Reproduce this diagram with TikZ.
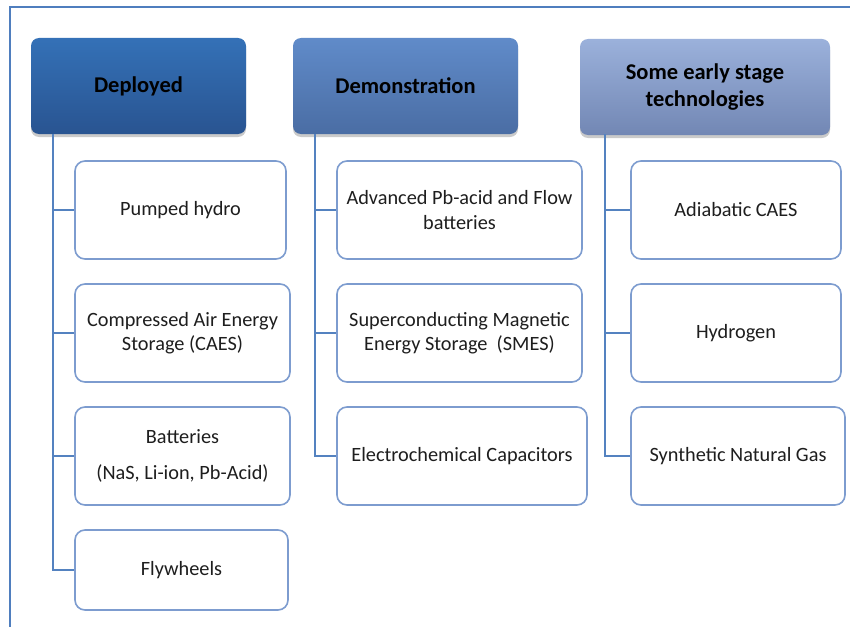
\documentclass[tikz,border=0pt]{standalone}
\usepackage{fontspec}
\setmainfont{Carlito}
\usetikzlibrary{shadows}
\definecolor{framec}{RGB}{79,126,190}
\definecolor{linec}{RGB}{84,130,192}
\definecolor{boxc}{RGB}{125,156,207}
\definecolor{hAtop}{RGB}{52,113,183}
\definecolor{hAbot}{RGB}{41,84,145}
\definecolor{hBtop}{RGB}{96,139,201}
\definecolor{hBbot}{RGB}{74,109,164}
\definecolor{hCtop}{RGB}{155,177,219}
\definecolor{hCbot}{RGB}{114,135,180}
\definecolor{txt}{RGB}{30,30,30}
\tikzset{
  header/.style={rectangle, rounded corners=8pt, minimum height=96pt, align=center,
    font=\fontsize{22.5}{27}\selectfont\bfseries, text=black,
    drop shadow={shadow xshift=0pt, shadow yshift=-3pt, opacity=0.35, fill=black!60}},
  item/.style={rectangle, rounded corners=10pt, draw=boxc, line width=1.6pt, fill=white,
    minimum height=98pt, align=center, text=txt, font=\fontsize{20.3}{24.5}\selectfont},
  conn/.style={draw=linec, line width=1.6pt},
}
\begin{document}
\begin{tikzpicture}[x=1pt,y=-1pt]
\useasboundingbox (0,0) rectangle (850,626);
\draw[framec, line width=1.6pt] (851,7) -- (10,7) -- (10,627);

% headers
\node[header, top color=hAtop, bottom color=hAbot, minimum width=215pt] (dep) at (138.5,86) {Deployed};
\node[header, top color=hBtop, bottom color=hBbot, minimum width=225pt] (dem) at (405.5,86) {Demonstration};
\node[header, top color=hCtop, bottom color=hCbot, minimum width=250pt] (ear) at (705,87) {Some early stage\\technologies};

% deployed items
\node[item, minimum width=211pt] (ph) at (180.5,210) {Pumped hydro};
\node[item, minimum width=215pt] (caes) at (182.5,333) {Compressed Air Energy\\Storage (CAES)};
\node[item, minimum width=215pt] (bat) at (182.5,456) {Batteries\\[11pt](NaS, Li-ion, Pb-Acid)};
\node[item, minimum width=213pt, minimum height=80pt] (fly) at (181.5,570) {Flywheels};

% demonstration items
\node[item, minimum width=245pt] (adv) at (459.5,210) {Advanced Pb-acid and Flow\\batteries};
\node[item, minimum width=245pt] (smes) at (459.5,333) {Superconducting Magnetic\\Energy Storage~~(SMES)};
\node[item, minimum width=250pt] (ec) at (462,456) {Electrochemical Capacitors};

% early items
\node[item, minimum width=210pt] (acaes) at (736,210) {Adiabatic CAES};
\node[item, minimum width=210pt] (hyd) at (736,333) {Hydrogen};
\node[item, minimum width=214pt] (sng) at (738,456) {Synthetic Natural Gas};

% connectors
\coordinate (d0) at (53,134);
\coordinate (m0) at (315,134);
\coordinate (e0) at (605,134);
\draw[conn] (d0) |- (ph.west);
\draw[conn] (d0) |- (caes.west);
\draw[conn] (d0) |- (bat.west);
\draw[conn] (d0) |- (fly.west);
\draw[conn] (m0) |- (adv.west);
\draw[conn] (m0) |- (smes.west);
\draw[conn] (m0) |- (ec.west);
\draw[conn] (e0) |- (acaes.west);
\draw[conn] (e0) |- (hyd.west);
\draw[conn] (e0) |- (sng.west);
\end{tikzpicture}
\end{document}
